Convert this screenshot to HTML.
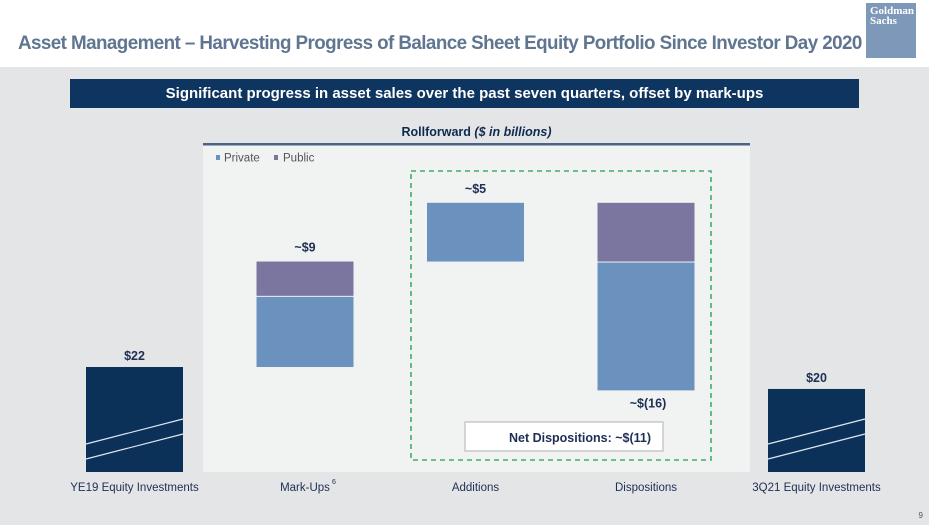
<!DOCTYPE html>
<html><head><meta charset="utf-8"><style>
body{margin:0;width:929px;height:525px;overflow:hidden;font-family:"Liberation Sans",sans-serif;background:#e4e5e6;position:relative}
.a{position:absolute}
</style></head><body>
<div class="a" style="left:0;top:0;width:929px;height:67px;background:#fff"></div>
<div class="a" style="left:18px;top:32px;font-size:19.5px;font-weight:bold;color:#5f7590;letter-spacing:-0.6px;transform:scaleX(0.965);transform-origin:left;white-space:nowrap">Asset Management – Harvesting Progress of Balance Sheet Equity Portfolio Since Investor Day 2020</div>
<div class="a" style="left:866px;top:3px;width:50px;height:55px;background:#7d98b8;color:#fff;font-family:'Liberation Serif',serif;font-size:11px;font-weight:bold;line-height:10px;padding:3px 0 0 4px;box-sizing:border-box">Goldman<br>Sachs</div>
<div class="a" style="left:70px;top:79px;width:789px;height:29px;background:#0e3460;color:#fff;font-size:15px;font-weight:bold;text-align:center;line-height:29px">Significant progress in asset sales over the past seven quarters, offset by mark-ups</div>
<div class="a" style="left:203px;top:125px;width:547px;text-align:center;font-size:12.5px;font-weight:bold;color:#0e2a4f">Rollforward <i>($ in billions)</i></div>
<svg class="a" style="left:0;top:0" width="929" height="525" id="chart">
<rect x="203" y="143" width="547" height="329" fill="#f1f2f2"/>
<rect x="203" y="143" width="547" height="2.5" fill="#4b6384"/>
<rect x="216" y="155" width="4" height="5" fill="#6b91bf"/>
<text x="224" y="161.5" font-size="11.5" fill="#555">Private</text>
<rect x="274" y="155" width="4" height="5" fill="#7a76a0"/>
<text x="283" y="161.5" font-size="11.5" fill="#555">Public</text>
<rect x="411" y="171" width="300" height="289" fill="none" stroke="#3fae6a" stroke-width="1.6" stroke-dasharray="5,4"/>
<rect x="465" y="422" width="198" height="29" fill="#fff" stroke="#c8c8c8" stroke-width="1.5"/>
<text x="580" y="442" font-size="12.5" font-weight="bold" fill="#1e2f55" text-anchor="middle">Net Dispositions: ~$(11)</text>
<text x="929" y="518" font-size="8" fill="#555" text-anchor="end" dx="-6">9</text>
</svg>
<script>
const categories=["YE19 Equity Investments","Mark-Ups","Additions","Dispositions","3Q21 Equity Investments"];
const kinds=["total","delta","delta","delta","total"];
const privateVals=[22,14.7,12.3,-27.0,17.4];
const publicVals=[0,7.4,0,-12.3,0];
const valueLabels=["$22","~$9","~$5","~$(16)","$20"];
const svg=document.getElementById('chart');
const NS='http://www.w3.org/2000/svg';
const baseY=472,pxPer=105/22,x0=134.5,step=170.5,bw=97;
const y=v=>baseY-v*pxPer;
const xc=i=>x0+i*step;
function mk(t,a){const e=document.createElementNS(NS,t);for(const k in a)e.setAttribute(k,a[k]);svg.appendChild(e);return e;}
let cum=0;
categories.forEach((c,i)=>{
  const x=xc(i)-bw/2;
  if(kinds[i]==='total'){
    const v=privateVals[i];
    const r=mk('rect',{x:x,y:y(v),width:bw,height:v*pxPer,fill:'#0c3159'});
    
    
    [0,1].forEach(k=>{const l=mk('line',{x1:x,y1:baseY-13-k*15,x2:x+bw,y2:baseY-38-k*15,stroke:'#dfe6ef','stroke-width':1.2});
      
      });
    const t=mk('text',{x:xc(i),y:y(v)-7,'font-size':12.5,'font-weight':'bold',fill:'#1e2f55','text-anchor':'middle'});
    t.textContent=valueLabels[i];
    
    
    cum=v;
  } else {
    const p=privateVals[i],q=publicVals[i];
    let top,bottom;
    if(p>=0){
      const r1=mk('rect',{x:x,y:y(cum+p),width:bw,height:p*pxPer,fill:'#6b91bf'});
      
      
      if(q>0){const r2=mk('rect',{x:x,y:y(cum+p+q),width:bw,height:q*pxPer-1,fill:'#7a76a0'});
        
        }
      top=y(cum+p+q);cum+=p+q;
      const t=mk('text',{x:xc(i),y:top-10,'font-size':12.5,'font-weight':'bold',fill:'#1e2f55','text-anchor':'middle'});
      t.textContent=valueLabels[i];
      
      
    } else {
      const r2=mk('rect',{x:x,y:y(cum),width:bw,height:-q*pxPer,fill:'#7a76a0'});
      
      
      const r1=mk('rect',{x:x,y:y(cum+q)+1,width:bw,height:-p*pxPer-1,fill:'#6b91bf'});
      
      
      cum+=p+q;bottom=y(cum);
      const t=mk('text',{x:xc(i)+2,y:bottom+17,'font-size':12.5,'font-weight':'bold',fill:'#1e2f55','text-anchor':'middle'});
      t.textContent=valueLabels[i];
      
      
    }
  }
  const ct=mk('text',{x:xc(i),y:491,'font-size':11.5,fill:'#1e2f55','text-anchor':'middle'});
  ct.textContent=c;
  
  
  if(i===1){const s=mk('text',{x:xc(i)+27,y:484,'font-size':7,fill:'#1e2f55'});s.textContent='6';
    
    }
});
</script>
</body></html>
